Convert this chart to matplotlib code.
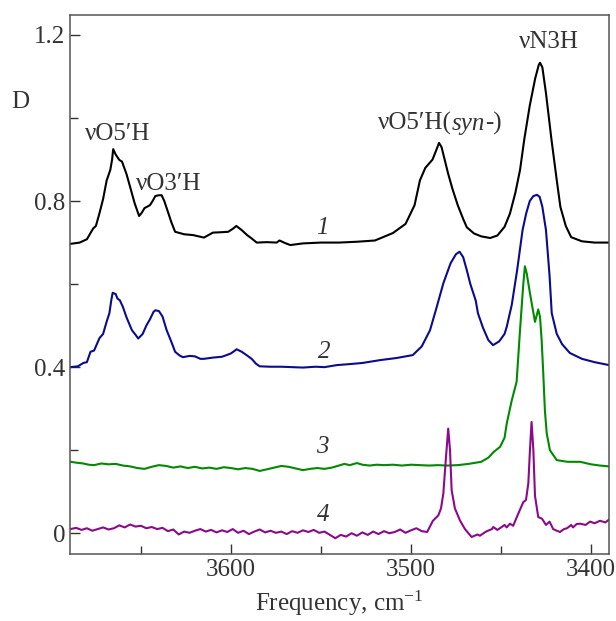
import matplotlib
matplotlib.use("Agg")
from matplotlib import pyplot as plt
from matplotlib.ticker import MultipleLocator

# spectrum 1 (black)
x1 = [3689, 3684, 3680, 3678, 3676.5, 3675, 3673, 3671, 3669, 3667, 3666, 3665.4, 3664, 3662,
      3660.5, 3658, 3656, 3653.5, 3651, 3649.5, 3648, 3645, 3643.5, 3642, 3640, 3638.5, 3637,
      3635, 3633, 3631, 3626, 3621, 3615, 3610, 3605, 3601.5, 3599, 3597, 3594, 3591, 3588.5,
      3585.7, 3580, 3574.6, 3573, 3570, 3567, 3560, 3550, 3540, 3530, 3520, 3510, 3503, 3498,
      3495, 3492, 3490, 3488, 3486, 3484.4, 3483, 3481, 3479.4, 3477, 3474, 3471, 3469, 3465,
      3461, 3456, 3452, 3448, 3445, 3442, 3439.4, 3437, 3434, 3431, 3429, 3428.3, 3427, 3425,
      3422, 3419, 3417, 3414, 3411, 3405, 3398, 3390]
y1 = [0.697, 0.700, 0.708, 0.723, 0.734, 0.740, 0.771, 0.805, 0.850, 0.875, 0.900, 0.925, 0.912, 0.899,
      0.895, 0.865, 0.834, 0.795, 0.764, 0.772, 0.783, 0.790, 0.800, 0.812, 0.814, 0.814, 0.800,
      0.774, 0.748, 0.726, 0.720, 0.718, 0.712, 0.724, 0.725, 0.726, 0.733, 0.740, 0.730, 0.718, 0.710,
      0.700, 0.701, 0.700, 0.705, 0.699, 0.694, 0.698, 0.700, 0.700, 0.702, 0.705, 0.723, 0.745, 0.790,
      0.850, 0.880, 0.890, 0.900, 0.922, 0.940, 0.930, 0.895, 0.867, 0.830, 0.790, 0.757, 0.737, 0.722,
      0.715, 0.711, 0.717, 0.738, 0.770, 0.820, 0.875, 0.950, 1.030, 1.095, 1.128, 1.133, 1.122, 1.060,
      0.950, 0.850, 0.786, 0.740, 0.713, 0.703, 0.700, 0.700]

# spectrum 2 (blue)
x2 = [3689, 3685, 3682, 3680, 3678, 3676, 3673, 3671, 3669, 3667.5, 3666.5, 3665.7, 3664, 3663,
      3661.7, 3660, 3658, 3655, 3653, 3651.5, 3649, 3647, 3645, 3643, 3642, 3640, 3638, 3635.7,
      3633, 3631, 3628.5, 3626.7, 3623, 3620, 3617, 3615, 3610, 3605, 3602.4, 3600, 3596.8, 3594,
      3591, 3588.5, 3586, 3584, 3578, 3572, 3566, 3560, 3553, 3548, 3541, 3535, 3527, 3517, 3508,
      3499, 3494, 3489.4, 3486, 3482, 3478, 3475, 3473, 3471, 3469, 3467, 3464, 3462.8, 3460, 3457,
      3454.4, 3451, 3448, 3446.8, 3444, 3441, 3438, 3436, 3434, 3432, 3430, 3428.5, 3427, 3425,
      3423, 3421.8, 3419, 3416, 3411.7, 3405, 3398, 3390]
y2 = [0.400, 0.402, 0.410, 0.412, 0.437, 0.440, 0.470, 0.480, 0.510, 0.530, 0.560, 0.579, 0.576, 0.565,
      0.561, 0.545, 0.520, 0.489, 0.478, 0.469, 0.480, 0.500, 0.515, 0.533, 0.537, 0.535, 0.522, 0.489,
      0.460, 0.437, 0.428, 0.424, 0.427, 0.426, 0.420, 0.420, 0.423, 0.425, 0.429, 0.433, 0.443, 0.437,
      0.428, 0.420, 0.408, 0.402, 0.401, 0.401, 0.400, 0.399, 0.401, 0.400, 0.405, 0.407, 0.410, 0.417, 0.422,
      0.429, 0.450, 0.489, 0.540, 0.602, 0.650, 0.672, 0.678, 0.665, 0.634, 0.600, 0.560, 0.530, 0.495, 0.465,
      0.453, 0.462, 0.480, 0.497, 0.550, 0.634, 0.730, 0.770, 0.800, 0.812, 0.815, 0.810, 0.786, 0.730,
      0.620, 0.530, 0.480, 0.455, 0.434, 0.420, 0.412, 0.405]

# spectrum 3 (green)
x3 = [3689, 3686, 3682, 3679, 3676, 3672, 3668, 3664, 3660, 3656, 3652, 3648, 3644, 3640, 3636,
      3632, 3628, 3624, 3620, 3616, 3612, 3608, 3604, 3600, 3596, 3592, 3588, 3584, 3580, 3576,
      3572, 3568, 3564, 3560, 3556, 3552, 3548, 3544, 3540, 3537, 3534, 3530, 3527, 3523, 3519,
      3515, 3510, 3505, 3500, 3495, 3490, 3485, 3480, 3474, 3468, 3461, 3457, 3454, 3450.5, 3448,
      3446.8, 3444, 3441.3, 3439.4, 3437.6, 3436.7, 3435.7, 3433.9, 3431.1, 3429.3, 3428.3, 3427.4,
      3426.5, 3425.6, 3424.6, 3422.8, 3419, 3413, 3406, 3400, 3395, 3390]
y3 = [0.172, 0.170, 0.168, 0.165, 0.164, 0.168, 0.166, 0.167, 0.163, 0.161, 0.157, 0.155, 0.160,
      0.164, 0.162, 0.158, 0.161, 0.157, 0.160, 0.156, 0.158, 0.155, 0.159, 0.157, 0.154, 0.157, 0.155,
      0.150, 0.154, 0.158, 0.162, 0.160, 0.156, 0.152, 0.155, 0.157, 0.155, 0.158, 0.163, 0.167, 0.164,
      0.169, 0.165, 0.163, 0.165, 0.164, 0.165, 0.163, 0.165, 0.164, 0.163, 0.164, 0.163, 0.164, 0.167,
      0.172, 0.182, 0.196, 0.208, 0.230, 0.264, 0.320, 0.365, 0.490, 0.600, 0.643, 0.626, 0.578, 0.509,
      0.539, 0.521, 0.465, 0.385, 0.296, 0.241, 0.200, 0.176, 0.172, 0.172, 0.166, 0.163, 0.161]

# spectrum 4 (purple)
x4 = [3689, 3686, 3683, 3680, 3677, 3674, 3671, 3668, 3665, 3662, 3659, 3656, 3653, 3650, 3647,
      3644, 3641, 3638, 3635, 3632, 3629, 3626, 3623, 3620, 3617, 3614, 3611, 3608, 3605, 3602,
      3599, 3596, 3593, 3590, 3587, 3584, 3581, 3578, 3575, 3572, 3569, 3566, 3563, 3560, 3557,
      3554, 3551, 3548, 3545, 3542, 3539, 3536, 3533, 3530, 3527, 3524, 3521, 3518, 3515, 3512,
      3509, 3506, 3503, 3500, 3497, 3494, 3491, 3487.8, 3484.8, 3483.3, 3482, 3480.6, 3479.3,
      3478.3, 3477.4, 3475.6, 3472.8, 3470, 3466.3, 3463, 3461.7, 3459, 3457.8, 3455, 3454.3,
      3452, 3450.6, 3448, 3446.8, 3445, 3443.2, 3440.6, 3437.6, 3436.1, 3434.8, 3433.9, 3433,
      3432, 3431.1, 3429.3, 3427.2, 3425, 3423, 3421, 3419, 3417.2, 3415, 3413.3, 3411, 3410,
      3408, 3406, 3403, 3400.5, 3398, 3395, 3392, 3389.4]
y4 = [0.010, 0.013, 0.008, 0.012, 0.006, 0.010, 0.014, 0.009, 0.012, 0.019, 0.014, 0.021, 0.016, 0.018,
      0.012, 0.015, 0.010, 0.013, 0.005, 0.009, -0.003, 0.004, 0.001, 0.006, 0.010, 0.004, 0.008, 0.002,
      0.007, 0.003, 0.010, 0.001, 0.006, -0.002, 0.004, 0.009, 0.002, 0.006, 0.001, 0.004, -0.002, 0.005,
      0.001, 0.007, 0.003, 0.008, 0.001, 0.004, -0.004, -0.012, -0.004, -0.008, 0.000, -0.006, 0.002,
      -0.004, 0.004, -0.002, 0.005, 0.000, 0.003, 0.009, 0.001, 0.007, 0.012, 0.005, 0.003, 0.030, 0.043,
      0.060, 0.096, 0.180, 0.252, 0.200, 0.104, 0.060, 0.031, 0.010, -0.009, -0.003, -0.006, 0.002,
      0.005, 0.010, 0.015, 0.008, 0.012, 0.020, 0.014, 0.023, 0.018, 0.045, 0.075, 0.080, 0.120, 0.200,
      0.268, 0.200, 0.090, 0.039, 0.035, 0.020, 0.028, 0.010, 0.006, 0.003, 0.010, 0.012, 0.020, 0.014,
      0.022, 0.023, 0.020, 0.028, 0.024, 0.030, 0.026, 0.035]

spectra = [(x1, y1, 'black'), (x2, y2, '#0b0b8c'), (x3, y3, '#008a00'), (x4, y4, '#8a0a8a')]
curve_labels = ['1', '2', '3', '4']
label_x = [3549, 3548, 3549, 3549]
label_y = [0.735, 0.437, 0.208, 0.043]

plt.rcParams['font.family'] = ['Liberation Serif', 'DejaVu Serif']
plt.rcParams['mathtext.fontset'] = 'custom'
plt.rcParams['mathtext.rm'] = 'Liberation Serif'
plt.rcParams['mathtext.it'] = 'Liberation Serif:italic'

TXT = '#333333'

fig = plt.figure(figsize=(6.16, 6.21), dpi=100)
ax = fig.add_axes([0.1136, 0.1079, 0.8750, 0.8679])

for xs, ys, c in spectra:
    ax.plot(xs, ys, color=c, lw=1.5)

for lab, lx, ly in zip(curve_labels, label_x, label_y):
    ax.text(lx, ly, lab, fontsize=18, style='italic', ha='center', va='center', color=TXT)

ax.text(3662.8, 0.961, 'νO5′H', fontsize=18, ha='center', va='center', color=TXT)
ax.text(3634.4, 0.842, 'νO3′H', fontsize=18, ha='center', va='center', color=TXT)
# "νO5′H(syn-)" in three pieces, each chained to the right edge of the previous one
t1 = ax.text(3518.3, 0.986, 'νO5′H(', fontsize=18, ha='left', va='center', color=TXT)
t2 = ax.annotate('syn', xy=(1, 0), xycoords=t1, fontsize=18, style='italic',
                 ha='left', va='bottom', color=TXT)
ax.annotate('-)', xy=(1, 0), xycoords=t2, fontsize=18, ha='left', va='bottom', color=TXT)
ax.text(3423.6, 1.184, 'νN3H', fontsize=18, ha='center', va='center', color=TXT)
ax.text(-0.093, 0.839, 'D', fontsize=18, transform=ax.transAxes, ha='center', va='center',
        color=TXT)

ax.set_xlim(3689.4, 3390)
ax.set_ylim(-0.05, 1.248)
ax.xaxis.set_major_locator(MultipleLocator(100))
ax.xaxis.set_minor_locator(MultipleLocator(50))
ax.yaxis.set_major_locator(MultipleLocator(0.4))
ax.yaxis.set_minor_locator(MultipleLocator(0.2))
ax.yaxis.set_major_formatter(plt.FuncFormatter(lambda v, p: '0' if abs(v) < 1e-9 else f'{v:.1f}'))
ax.tick_params(which='both', direction='in', top=False, right=False, labelsize=18,
               colors=TXT, width=1.0)
ax.tick_params(which='major', length=7)
ax.tick_params(which='minor', length=6)
for s in ax.spines.values():
    s.set_color('#555555')
    s.set_linewidth(1.1)
ax.set_xlabel('Frequency, cm$^{-1}$', fontsize=18, color=TXT, labelpad=6)

fig.savefig('out.png', dpi=100)
